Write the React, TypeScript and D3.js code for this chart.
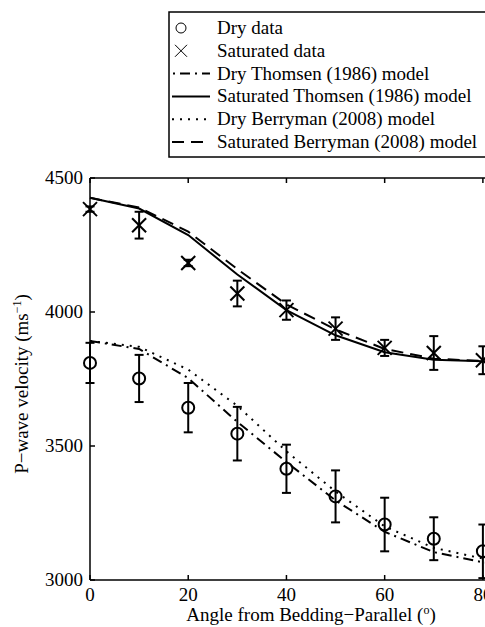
import React from "react";
import * as d3 from "d3";

const angles = [0, 10, 20, 30, 40, 50, 60, 70, 80];
const dryData = [3810, 3752, 3643, 3546, 3415, 3312, 3207, 3154, 3107];
const dryErr = [75, 88, 92, 100, 90, 97, 100, 80, 100];
const satData = [4384, 4324, 4183, 4069, 4007, 3938, 3866, 3847, 3820];
const satErr = [10, 50, 12, 48, 36, 42, 30, 63, 52];

const modelAngles = [0, 10, 20, 30, 40, 50, 60, 70, 80, 90];
const dryThomsen = [3892, 3862, 3753, 3590, 3440, 3297, 3180, 3104, 3066, 3060];
const satThomsen = [4426, 4386, 4287, 4140, 4007, 3913, 3850, 3822, 3816, 3815];
const dryBerryman = [3892, 3870, 3785, 3650, 3480, 3330, 3200, 3120, 3080, 3070];
const satBerryman = [4426, 4390, 4300, 4160, 4028, 3935, 3862, 3826, 3817, 3815];

const xTicks = [0, 20, 40, 60, 80];
const yTicks = [3000, 3500, 4000, 4500];

const legendLabels = [
  "Dry data",
  "Saturated data",
  "Dry Thomsen (1986) model",
  "Saturated Thomsen (1986) model",
  "Dry Berryman (2008) model",
  "Saturated Berryman (2008) model",
];

const FONT = '"Liberation Serif"';
const DASHDOT = "10 5 2 5";
const DASHED = "12 7";
const DOTTED = "2 6";

export default function App() {
  const left = 90, right = 532, top = 178, bottom = 580;
  const x = d3.scaleLinear().domain([0, 90]).range([left, right]);
  const y = d3.scaleLinear().domain([3000, 4500]).range([bottom, top]);
  const line = d3
    .line<number>()
    .x((_, i) => x(modelAngles[i]))
    .y((d) => y(d));

  const cap = 4.5;
  const r = 6;
  const xs = 7;
  const ts: React.CSSProperties = { fontFamily: FONT, fontSize: 19 };

  const errBars = (vals: number[], errs: number[], key: string) =>
    vals.map((v, i) => {
      const cx = x(angles[i]);
      const y1 = y(v + errs[i]);
      const y2 = y(v - errs[i]);
      return (
        <g key={key + i} stroke="#000" strokeWidth={2} fill="none">
          <line x1={cx} x2={cx} y1={y1} y2={y2} />
          <line x1={cx - cap} x2={cx + cap} y1={y1} y2={y1} />
          <line x1={cx - cap} x2={cx + cap} y1={y2} y2={y2} />
        </g>
      );
    });

  const legTop = 12, legLeft = 169, legRight = 490, legBottom = 157;
  const rowY = (i: number) => 28 + i * 22.8;
  const lx1 = 172, lx2 = 210, mx = 181, tx = 217;

  return (
    <svg
      width={485}
      height={627}
      style={{ position: "absolute", left: 0, top: 0, background: "#fff" }}
    >
      <rect x={0} y={0} width={485} height={627} fill="#fff" />
      {/* model lines */}
      <path d={line(dryThomsen) || ""} fill="none" stroke="#000" strokeWidth={2} strokeDasharray={DASHDOT} />
      <path d={line(dryBerryman) || ""} fill="none" stroke="#000" strokeWidth={2} strokeDasharray={DOTTED} />
      <path d={line(satThomsen) || ""} fill="none" stroke="#000" strokeWidth={2} />
      <path d={line(satBerryman) || ""} fill="none" stroke="#000" strokeWidth={2} strokeDasharray={DASHED} />

      {/* error bars */}
      {errBars(dryData, dryErr, "de")}
      {errBars(satData, satErr, "se")}

      {/* markers */}
      {dryData.map((v, i) => (
        <circle key={"dc" + i} cx={x(angles[i])} cy={y(v)} r={r} fill="none" stroke="#000" strokeWidth={2} />
      ))}
      {satData.map((v, i) => {
        const cx = x(angles[i]);
        const cy = y(v);
        return (
          <g key={"sx" + i} stroke="#000" strokeWidth={2}>
            <line x1={cx - xs} x2={cx + xs} y1={cy - xs} y2={cy + xs} />
            <line x1={cx - xs} x2={cx + xs} y1={cy + xs} y2={cy - xs} />
          </g>
        );
      })}

      {/* axes box */}
      <g stroke="#000" strokeWidth={1.5} fill="none">
        <line x1={left} x2={right} y1={top} y2={top} />
        <line x1={left} x2={right} y1={bottom} y2={bottom} />
        <line x1={left} x2={left} y1={top} y2={bottom} />
        <line x1={right} x2={right} y1={top} y2={bottom} />
        {xTicks.map((t) => (
          <g key={"xt" + t}>
            <line x1={x(t)} x2={x(t)} y1={bottom} y2={bottom - 5} />
            <line x1={x(t)} x2={x(t)} y1={top} y2={top + 5} />
          </g>
        ))}
        {yTicks.map((t) => (
          <g key={"yt" + t}>
            <line x1={left} x2={left + 5} y1={y(t)} y2={y(t)} />
            <line x1={right} x2={right - 5} y1={y(t)} y2={y(t)} />
          </g>
        ))}
      </g>
      {xTicks.map((t) => (
        <text key={"xl" + t} x={x(t)} y={601} textAnchor="middle" style={ts} fill="#000">
          {t}
        </text>
      ))}
      {yTicks.map((t) => (
        <text key={"yl" + t} x={83} y={y(t) + 6} textAnchor="end" style={ts} fill="#000">
          {t}
        </text>
      ))}
      <text x={311} y={621} textAnchor="middle" style={ts} fill="#000">
        Angle from Bedding−Parallel (<tspan dy={-7} style={{ fontSize: 12 }}>o</tspan>
        <tspan dy={7}>)</tspan>
      </text>
      <text transform="translate(28,384) rotate(-90)" textAnchor="middle" style={ts} fill="#000">
        P−wave velocity (ms<tspan dy={-7} style={{ fontSize: 12 }}>−1</tspan>
        <tspan dy={7}>)</tspan>
      </text>

      {/* legend */}
      <rect x={legLeft} y={legTop} width={legRight - legLeft} height={legBottom - legTop} fill="#fff" stroke="#000" strokeWidth={1.5} />
      {legendLabels.map((lab, i) => (
        <text key={"lg" + i} x={tx} y={rowY(i) + 6} style={ts} fill="#000">
          {lab}
        </text>
      ))}
      <circle cx={mx} cy={rowY(0)} r={5} fill="none" stroke="#000" strokeWidth={1} />
      <g stroke="#000" strokeWidth={1}>
        <line x1={mx - 6} x2={mx + 6} y1={rowY(1) - 6} y2={rowY(1) + 6} />
        <line x1={mx - 6} x2={mx + 6} y1={rowY(1) + 6} y2={rowY(1) - 6} />
      </g>
      <line x1={lx1} x2={lx2} y1={rowY(2)} y2={rowY(2)} stroke="#000" strokeWidth={2} strokeDasharray={DASHDOT} strokeDashoffset={-8} />
      <line x1={lx1} x2={lx2} y1={rowY(3)} y2={rowY(3)} stroke="#000" strokeWidth={2} />
      <line x1={lx1} x2={lx2} y1={rowY(4)} y2={rowY(4)} stroke="#000" strokeWidth={2} strokeDasharray={DOTTED} />
      <line x1={lx1} x2={lx2} y1={rowY(5)} y2={rowY(5)} stroke="#000" strokeWidth={2} strokeDasharray={DASHED} />
    </svg>
  );
}
